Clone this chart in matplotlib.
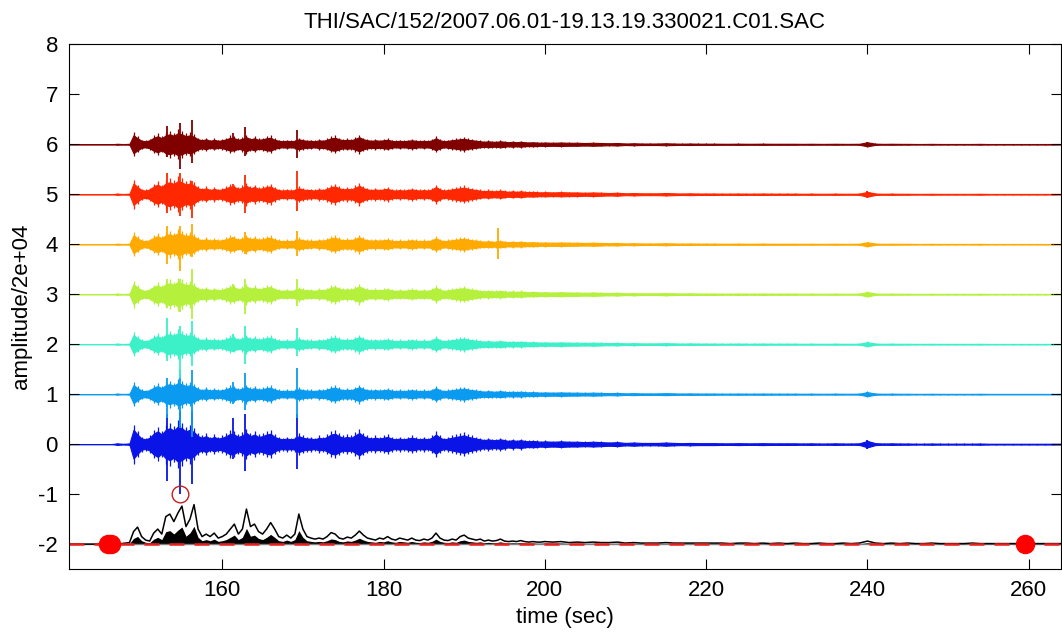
import numpy as np
import matplotlib
matplotlib.use("Agg")
import matplotlib.pyplot as plt

plt.rcParams['font.family'] = ['Liberation Sans', 'DejaVu Sans']
plt.rcParams['axes.unicode_minus'] = False

# sample grid of the envelopes (sec)
t_env = np.concatenate([np.arange(141.0, 147.0, 1.0),
                        np.arange(146.5, 200.5, 0.5),
                        np.arange(201.0, 265.0, 1.0)])

# stacked envelope (black trace above -2)
env = [0.0, 0.0, 0.0, 0.0, 0.0, 0.0,
       0.01, 0.01, 0.01, 0.02, 0.03, 0.25, 0.34, 0.15, 0.08, 0.06,
       0.22, 0.30, 0.20, 0.55, 0.60, 0.45, 0.62, 0.76, 0.35, 0.50,
       0.79, 0.30, 0.15, 0.20, 0.15, 0.22, 0.12, 0.15, 0.20, 0.30,
       0.40, 0.20, 0.30, 0.70, 0.35, 0.40, 0.25, 0.20, 0.30, 0.43,
       0.30, 0.15, 0.12, 0.18, 0.12, 0.20, 0.60, 0.30, 0.15, 0.12,
       0.10, 0.12, 0.10, 0.15, 0.23, 0.20, 0.12, 0.10, 0.14, 0.12,
       0.18, 0.26, 0.18, 0.12, 0.10, 0.08, 0.12, 0.10, 0.15, 0.10,
       0.08, 0.12, 0.10, 0.08, 0.12, 0.08, 0.07, 0.10, 0.08, 0.12,
       0.22, 0.12, 0.08, 0.07, 0.10, 0.08, 0.15, 0.18, 0.12, 0.10,
       0.08, 0.10, 0.06, 0.08, 0.06, 0.07, 0.10, 0.06, 0.05, 0.06,
       0.05, 0.07, 0.05, 0.04, 0.05, 0.04, 0.04, 0.05,
       0.04, 0.05, 0.03, 0.04, 0.03, 0.04, 0.03, 0.03, 0.04, 0.02,
       0.03, 0.02, 0.02, 0.02, 0.03, 0.02, 0.02, 0.02, 0.02, 0.02,
       0.02, 0.02, 0.01, 0.02, 0.02, 0.01, 0.02, 0.01, 0.02, 0.01,
       0.02, 0.01, 0.01, 0.02, 0.01, 0.01, 0.02, 0.01, 0.02, 0.06,
       0.02, 0.01, 0.02, 0.01, 0.02, 0.01, 0.01, 0.02, 0.01, 0.01,
       0.01, 0.01, 0.02, 0.01, 0.01, 0.01, 0.01, 0.01, 0.01, 0.01,
       0.01, 0.01, 0.01, 0.01]

# typical half-amplitude of a single trace (dark red one), same grid
wave = [0.0, 0.0, 0.0, 0.0, 0.0, 0.0,
        0.003, 0.01, 0.005, 0.005, 0.01, 0.18, 0.12, 0.07, 0.06, 0.08,
        0.13, 0.16, 0.12, 0.18, 0.20, 0.17, 0.22, 0.20, 0.16, 0.18,
        0.15, 0.10, 0.08, 0.10, 0.07, 0.09, 0.07, 0.08, 0.10, 0.13,
        0.12, 0.09, 0.11, 0.14, 0.10, 0.12, 0.09, 0.10, 0.12, 0.13,
        0.09, 0.07, 0.06, 0.07, 0.06, 0.07, 0.10, 0.08, 0.07, 0.07,
        0.06, 0.08, 0.07, 0.09, 0.12, 0.13, 0.10, 0.08, 0.09, 0.08,
        0.11, 0.14, 0.10, 0.08, 0.07, 0.08, 0.07, 0.08, 0.09, 0.07,
        0.06, 0.07, 0.06, 0.07, 0.08, 0.07, 0.06, 0.07, 0.06, 0.08,
        0.12, 0.08, 0.06, 0.07, 0.08, 0.09, 0.10, 0.11, 0.09, 0.08,
        0.07, 0.06, 0.05, 0.06, 0.05, 0.05, 0.06, 0.05, 0.04, 0.05,
        0.04, 0.05, 0.04, 0.035, 0.04, 0.035, 0.03, 0.035,
        0.03, 0.035, 0.03, 0.03, 0.025, 0.03, 0.025, 0.02, 0.025, 0.015,
        0.02, 0.015, 0.015, 0.015, 0.02, 0.015, 0.012, 0.015, 0.012, 0.012,
        0.012, 0.01, 0.01, 0.012, 0.01, 0.01, 0.012, 0.01, 0.01, 0.01,
        0.01, 0.008, 0.01, 0.008, 0.008, 0.01, 0.008, 0.008, 0.01, 0.04,
        0.012, 0.008, 0.01, 0.008, 0.008, 0.006, 0.006, 0.008, 0.006, 0.006,
        0.006, 0.006, 0.006, 0.008, 0.005, 0.005, 0.005, 0.005, 0.005, 0.005,
        0.005, 0.005, 0.005, 0.005]

offsets = [0, 1, 2, 3, 4, 5, 6]
colors = ['#0a14e6', '#0a9bf0', '#3cf0c8', '#b4f03c', '#ffaa00', '#ff2800', '#800000']
gain = [1.6, 1.0, 1.0, 1.1, 1.0, 1.2, 1.0]

# strongest arrivals, per trace (up / down amplitude)
spike_t = [153.2, 154.7, 156.3, 161.3, 162.8, 169.3]
spike_up = [[0.60, 0.66, 0.66, 0.53, 0.60, 0.60],
            [0.33, 0.49, 0.49, 0.25, 0.43, 0.53],
            [0.53, 0.36, 0.47, 0.20, 0.36, 0.33],
            [0.30, 0.30, 0.50, 0.20, 0.30, 0.30],
            [0.36, 0.36, 0.40, 0.15, 0.25, 0.26],
            [0.43, 0.43, 0.26, 0.20, 0.39, 0.46],
            [0.36, 0.43, 0.49, 0.23, 0.34, 0.29]]
spike_dn = [[0.74, 1.00, 0.80, 0.30, 0.54, 0.50],
            [0.47, 0.67, 0.85, 0.20, 0.31, 0.47],
            [0.34, 0.67, 0.44, 0.15, 0.40, 0.24],
            [0.27, 0.35, 0.50, 0.15, 0.40, 0.24],
            [0.40, 0.54, 0.25, 0.12, 0.20, 0.24],
            [0.37, 0.44, 0.47, 0.15, 0.37, 0.34],
            [0.25, 0.50, 0.37, 0.12, 0.24, 0.27]]

# a few isolated spikes later in the record
extra_trace = [4, 0, 5, 6, 1]
extra_t = [194.2, 240.0, 240.0, 240.0, 240.0]
extra_up = [0.33, 0.09, 0.07, 0.05, 0.05]
extra_dn = [0.30, 0.09, 0.07, 0.04, 0.05]

# picks on the stacked trace
pick_t = [145.8, 146.2, 259.5]
pick_y = [-2, -2, -2]
max_t = 154.7
max_y = -1

title = 'THI/SAC/152/2007.06.01-19.13.19.330021.C01.SAC'

fig = plt.figure(figsize=(10.62, 6.33), dpi=100)
ax = fig.add_axes([0.065, 0.101, 0.934, 0.829])

env = np.array(env)
wave = np.array(wave)
for k, off in enumerate(offsets):
    c = colors[k]
    a = gain[k] * wave
    ax.fill_between(t_env, off - a, off + a, color=c, lw=0.8, edgecolor=c)
    # hair-like wiggles on top of the envelope
    ax.vlines(t_env, off - 1.35 * a, off + 1.35 * a, color=c, lw=0.9)
    ax.vlines(spike_t, [off - d for d in spike_dn[k]], [off + u for u in spike_up[k]],
              color=c, lw=1.3)
for tr, tt, u, d in zip(extra_trace, extra_t, extra_up, extra_dn):
    ax.vlines(tt, offsets[tr] - d, offsets[tr] + u, color=colors[tr], lw=1.3)

ax.axhline(-2, color='0.5', lw=1.0)
ax.fill_between(t_env, -2, -2 + 0.45 * env, color='k', lw=0)
ax.plot(t_env, -2 + env, color='k', lw=1.1)
ax.axhline(-2, color='#e8201e', lw=1.8, ls=(0, (6, 4)))
ax.plot(pick_t, pick_y, 'o', color='red', ms=13, mec='red')
ax.plot(max_t, max_y, 'o', mfc='none', mec='#c02020', ms=12, mew=1)

ax.set_xlim(141, 264)
ax.set_ylim(-2.5, 8)
ax.set_xticks([160, 180, 200, 220, 240, 260])
ax.set_yticks(range(-2, 9))
ax.tick_params(direction='in', length=7, top=True, right=True, labelsize=16, pad=8)
ax.set_xlabel('time (sec)', fontsize=16)
ax.set_ylabel('amplitude/2e+04', fontsize=16)
ax.set_title(title, fontsize=16, pad=12)

fig.savefig('out.png', dpi=100)
